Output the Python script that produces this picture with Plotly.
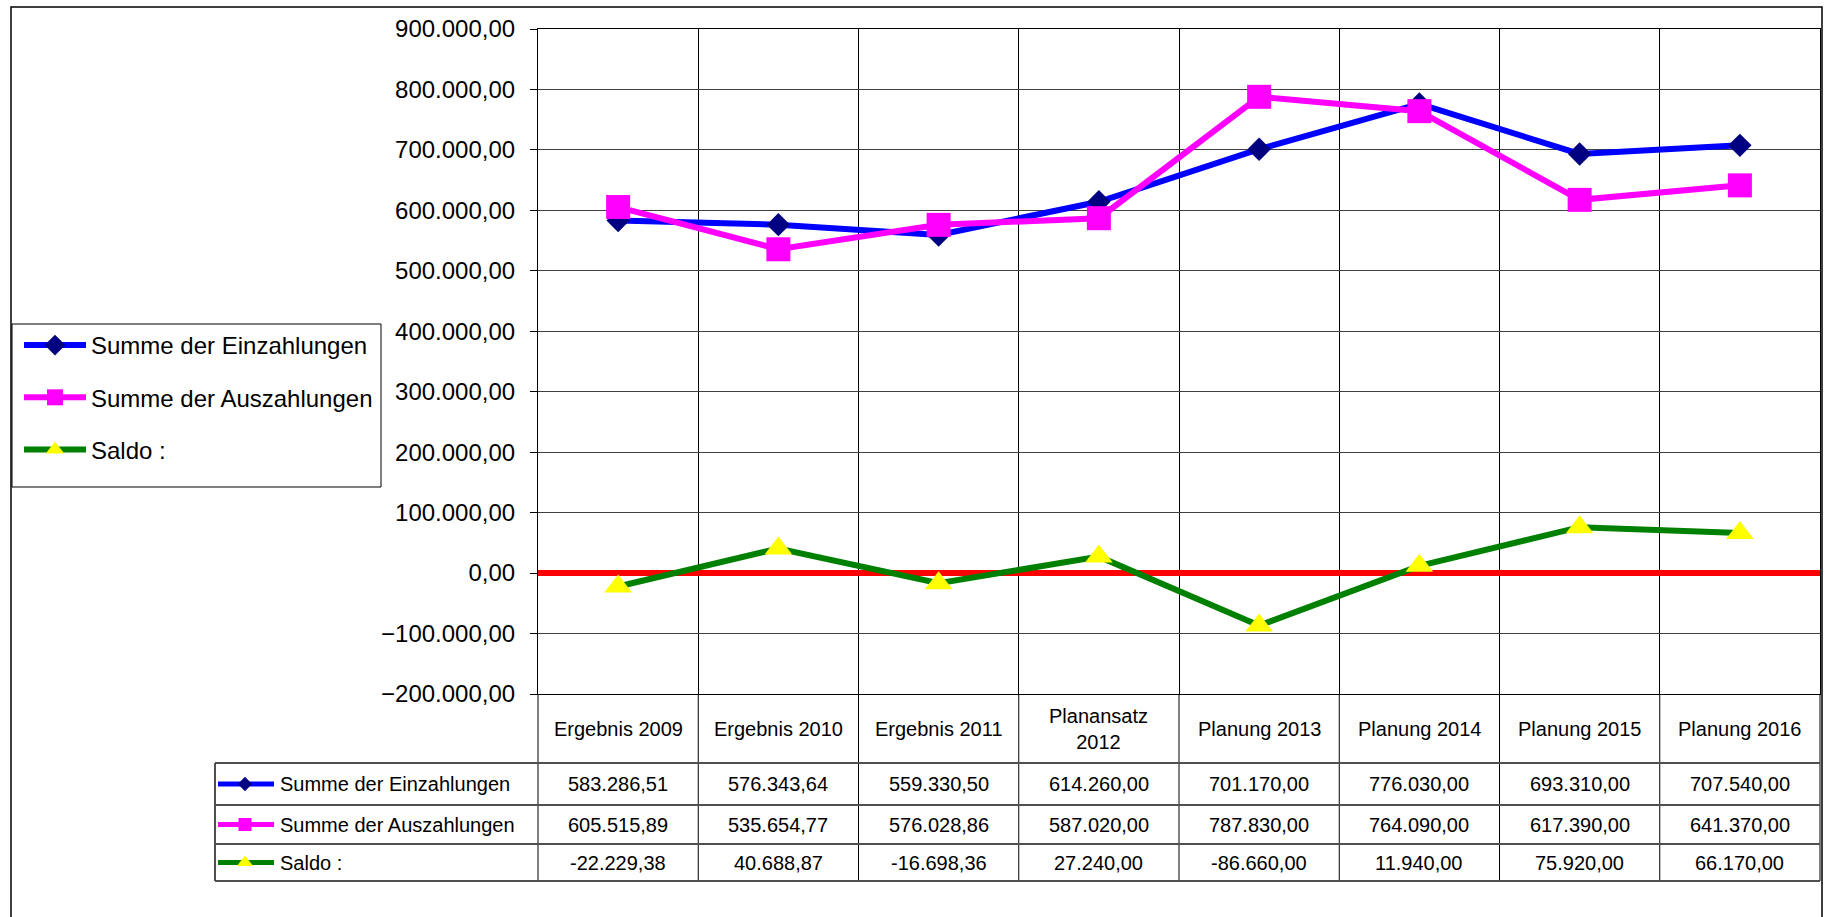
import plotly.graph_objects as go

# ---------------- data ----------------
categories = ["Ergebnis 2009", "Ergebnis 2010", "Ergebnis 2011", "Planansatz 2012",
              "Planung 2013", "Planung 2014", "Planung 2015", "Planung 2016"]
header_labels = ["Ergebnis 2009", "Ergebnis 2010", "Ergebnis 2011", "Planansatz<br>2012",
                 "Planung 2013", "Planung 2014", "Planung 2015", "Planung 2016"]
einzahlungen = [583286.51, 576343.64, 559330.50, 614260.00, 701170.00, 776030.00, 693310.00, 707540.00]
auszahlungen = [605515.89, 535654.77, 576028.86, 587020.00, 787830.00, 764090.00, 617390.00, 641370.00]
saldo = [-22229.38, 40688.87, -16698.36, 27240.00, -86660.00, 11940.00, 75920.00, 66170.00]
series_names = ["Summe der Einzahlungen", "Summe der Auszahlungen", "Saldo :"]
y_range = [-200000, 900000]
y_step = 100000

# ---------------- style ----------------
W, H = 1825, 917
PL, PR, PT, PB = 538, 1820, 29, 694          # plot area in pixels
ROWS = [694, 763, 805, 844, 881]              # table row borders
TABLE_L = 215
LEG_BOX = (12, 381, 324, 487)                 # legend frame x0, x1, y0, y1
FONT = "Arial, 'Liberation Sans', sans-serif"
styles = [
    dict(line=dict(color="#0000FF", width=6), marker=dict(symbol="diamond", size=18, color="#000080")),
    dict(line=dict(color="#FF00FF", width=6), marker=dict(symbol="square", size=24, color="#FF00FF")),
    dict(line=dict(color="#008000", width=6), marker=dict(symbol="triangle-up", size=24, color="#FFFF00")),
]
icon_marker_sizes = [11, 13, 14]


def de_fmt(v):
    s = f"{v:,.2f}"
    return s.replace(",", "X").replace(".", ",").replace("X", ".")


fig = go.Figure()
all_series = [einzahlungen, auszahlungen, saldo]
for i, (name, vals) in enumerate(zip(series_names, all_series)):
    fig.add_trace(go.Scatter(
        x=categories, y=vals, name=name, mode="lines+markers",
        line=styles[i]["line"], marker=styles[i]["marker"],
        legendgroup=f"g{i}", xaxis="x", yaxis="y",
    ))

# table legend keys (icons) on pixel overlay axes
col_w = (PR - PL) / len(categories)
for i in range(3):
    yc = (ROWS[i + 1] + ROWS[i + 2]) / 2
    fig.add_trace(go.Scatter(
        x=[TABLE_L + 3, TABLE_L + 59], y=[yc, yc], mode="lines",
        line=dict(color=styles[i]["line"]["color"], width=5),
        showlegend=False, hoverinfo="skip", xaxis="x2", yaxis="y2",
    ))
    fig.add_trace(go.Scatter(
        x=[TABLE_L + 30], y=[yc], mode="markers",
        marker=dict(symbol=styles[i]["marker"]["symbol"], size=icon_marker_sizes[i],
                    color=styles[i]["marker"]["color"]),
        showlegend=False, hoverinfo="skip", xaxis="x2", yaxis="y2",
    ))

shapes = []
# outer border
shapes.append(dict(type="rect", xref="x2", yref="y2", x0=11, x1=1822, y0=7, y1=930,
                   line=dict(color="black", width=1.5), layer="below"))
# legend frame
shapes.append(dict(type="rect", xref="x2", yref="y2", x0=LEG_BOX[0], x1=LEG_BOX[1],
                   y0=LEG_BOX[2], y1=LEG_BOX[3], line=dict(color="black", width=1), layer="below"))
# table vertical lines (continuation of category boundaries)
for k in range(len(categories) + 1):
    xk = PL + k * col_w
    shapes.append(dict(type="line", xref="x2", yref="y2", x0=xk, x1=xk, y0=ROWS[0], y1=ROWS[-1],
                       line=dict(color="black", width=1)))
shapes.append(dict(type="line", xref="x2", yref="y2", x0=TABLE_L, x1=TABLE_L, y0=ROWS[1], y1=ROWS[-1],
                   line=dict(color="#505050", width=2)))
for r in ROWS[1:]:
    shapes.append(dict(type="line", xref="x2", yref="y2", x0=TABLE_L, x1=PR, y0=r, y1=r,
                       line=dict(color="#505050", width=2)))

annotations = []
hy = (ROWS[0] + ROWS[1]) / 2
for k, lab in enumerate(header_labels):
    annotations.append(dict(xref="x2", yref="y2", x=PL + (k + 0.5) * col_w, y=hy, text=lab,
                            showarrow=False, font=dict(size=20, color="black", family=FONT),
                            xanchor="center", yanchor="middle"))
for i, (name, vals) in enumerate(zip(series_names, all_series)):
    yc = (ROWS[i + 1] + ROWS[i + 2]) / 2
    annotations.append(dict(xref="x2", yref="y2", x=TABLE_L + 63, y=yc, text=name, showarrow=False,
                            font=dict(size=20, color="black", family=FONT),
                            xanchor="left", yanchor="middle"))
    for k, v in enumerate(vals):
        annotations.append(dict(xref="x2", yref="y2", x=PL + (k + 0.5) * col_w, y=yc, text=de_fmt(v),
                                showarrow=False, font=dict(size=20, color="black", family=FONT),
                                xanchor="center", yanchor="middle"))

fig.update_layout(
    template="none",
    width=W, height=H,
    margin=dict(l=0, r=0, t=0, b=0, pad=0, autoexpand=False),
    paper_bgcolor="white", plot_bgcolor="rgba(0,0,0,0)",
    font=dict(family=FONT, size=24, color="black"),
    separators=",.",
    showlegend=True,
    hovermode="closest",
    legend=dict(x=19 / W, y=1 - 323 / H, xanchor="left", yanchor="top",
                borderwidth=0, bgcolor="rgba(0,0,0,0)",
                font=dict(size=24, color="black", family=FONT),
                itemwidth=62, tracegroupgap=18, traceorder="grouped"),
    xaxis=dict(domain=[PL / W, PR / W], type="category", range=[-0.5, len(categories) - 0.5],
               tickson="boundaries", showgrid=True, gridcolor="black", gridwidth=1,
               showticklabels=False, ticks="", showline=True, mirror=True, linecolor="black",
               linewidth=1, zeroline=False, anchor="y", automargin=False),
    yaxis=dict(domain=[1 - PB / H, 1 - PT / H], range=y_range, dtick=y_step, tick0=0,
               tickformat=",.2f", ticks="outside", ticklen=7, tickcolor="black",
               ticklabelstandoff=10, automargin=False,
               showgrid=True, gridcolor="#404040", gridwidth=1, showline=True, mirror=True,
               linecolor="black", linewidth=1, zeroline=True, zerolinecolor="#FF0000",
               zerolinewidth=6, anchor="x", tickfont=dict(size=24, color="black", family=FONT)),
    xaxis2=dict(domain=[0, 1], range=[0, W], visible=False, anchor="y2", fixedrange=True,
                automargin=False),
    yaxis2=dict(domain=[0, 1], range=[H, 0], visible=False, anchor="x2", fixedrange=True,
                automargin=False),
    shapes=shapes, annotations=annotations,
)

fig.write_html("out.html", config={"displayModeBar": False},
               post_script="document.body.style.margin='0';document.body.style.overflow='hidden';")
